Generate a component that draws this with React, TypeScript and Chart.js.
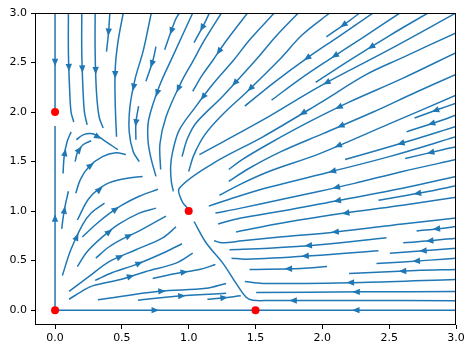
import React, { useEffect, useRef } from "react";
import { Chart, registerables } from "chart.js";

Chart.register(...registerables);

type Pt = [number, number];

// Axis limits and ticks
const xRange: [number, number] = [-0.15, 3];
const yRange: [number, number] = [-0.15, 3];
const xTicks = [0, 0.5, 1, 1.5, 2, 2.5, 3];
const yTicks = [0, 0.5, 1, 1.5, 2, 2.5, 3];

// Fixed points (red dots)
const fixedX = [0, 0, 1, 1.5];
const fixedY = [0, 2, 1, 0];

// Streamlines (ordered in the direction of flow)
const axisLines: Pt[][] = [
  [[0, 3], [0, 2]],
  [[0, 0], [0, 1.86]],
  [[0, 0], [1.5, 0]],
  [[3, 0], [1.5, 0]],
];

const upperLeftLines: Pt[][] = [
  [[0.1, 3], [0.1, 2.6], [0.11, 2.2], [0.12, 2.0], [0.14, 1.9]],
  [[0.2, 3], [0.2, 2.6], [0.21, 2.2], [0.22, 2.0], [0.24, 1.87]],
  [[0.3, 3], [0.3, 2.6], [0.31, 2.2], [0.33, 1.95], [0.36, 1.84]],
  [[0.41, 3], [0.4, 2.8], [0.385, 2.61]],
  [[0.51, 3], [0.47, 2.7], [0.45, 2.43], [0.45, 2.1], [0.46, 1.75]],
  [[0.72, 3], [0.66, 2.62], [0.6, 2.34], [0.56, 2.05], [0.555, 1.8], [0.585, 1.6], [0.63, 1.5]],
  [[0.755, 2.66], [0.73, 2.51], [0.68, 2.31]],
  [[0.625, 2.06], [0.605, 1.89], [0.605, 1.72]],
  [[0.93, 3], [0.9, 2.93], [0.82, 2.63]],
  [[1.155, 3], [1.12, 2.9], [1.04, 2.7]],
  [[1.03, 3], [0.88, 2.56], [0.78, 2.26], [0.7, 1.92], [0.695, 1.72], [0.715, 1.55], [0.755, 1.35]],
  [[1.245, 3], [1.12, 2.73], [1.03, 2.51], [0.94, 2.29], [0.83, 1.95], [0.785, 1.68], [0.79, 1.42]],
  [[1.44, 3], [1.26, 2.68], [1.18, 2.52], [1.1, 2.37], [1.03, 2.21]],
  [[1.64, 3], [1.45, 2.72], [1.34, 2.53], [1.18, 2.28], [1.05, 2.05], [0.93, 1.82], [0.88, 1.6], [0.865, 1.45], [0.87, 1.3], [0.885, 1.2]],
  [[1.82, 3], [1.65, 2.76], [1.505, 2.53], [1.255, 2.16], [1.055, 1.89], [0.99, 1.73], [0.95, 1.55]],
  [[2.055, 3], [1.85, 2.78], [1.68, 2.53], [1.44, 2.21], [1.25, 1.97], [1.12, 1.77], [1.04, 1.57], [1.0, 1.4]],
];

const upperRightLines: Pt[][] = [
  [[2.28, 3], [2.17, 2.89], [2.03, 2.76]],
  [[2.38, 3], [2.12, 2.76], [1.88, 2.54], [1.64, 2.3], [1.42, 2.06]],
  [[2.58, 3], [2.3, 2.75], [2.05, 2.53], [1.83, 2.33], [1.62, 2.12]],
  [[2.79, 3], [2.5, 2.77], [2.2, 2.52], [1.95, 2.3]],
  [[3, 3], [2.5, 2.63], [1.98, 2.26], [1.555, 1.92], [1.08, 1.57]],
  [[3, 2.8], [2.6, 2.55], [2.33, 2.38], [1.98, 2.09], [1.555, 1.75], [1.18, 1.48], [0.93, 1.23], [0.95, 1.1], [0.99, 1.03]],
  [[3, 2.6], [2.6, 2.34], [2.2, 2.1], [1.9, 1.9], [1.6, 1.68], [1.4, 1.52], [1.3, 1.42]],
  [[3, 2.38], [2.7, 2.2], [2.38, 2.0], [2.0, 1.78], [1.69, 1.6], [1.45, 1.43], [1.3, 1.3]],
  [[3, 2.17], [2.5, 1.88], [1.98, 1.58], [1.6, 1.4], [1.4, 1.28], [1.23, 1.16]],
  [[3, 2.09], [2.875, 2.03], [2.69, 1.94]],
  [[3, 1.97], [2.9, 1.92], [2.63, 1.8]],
  [[3, 1.855], [2.63, 1.7], [2.17, 1.52]],
  [[3, 1.75], [2.5, 1.55], [2.07, 1.4], [1.6, 1.24], [1.35, 1.14], [1.15, 1.05]],
  [[3, 1.65], [2.9, 1.62], [2.62, 1.53]],
  [[3, 1.52], [2.6, 1.4], [2.24, 1.28], [1.98, 1.2], [1.7, 1.12], [1.39, 1.03], [1.2, 0.98]],
  [[3, 1.35], [2.6, 1.23], [2.13, 1.11], [1.7, 1.0], [1.39, 0.93], [1.22, 0.87]],
  [[3, 1.255], [2.8, 1.2], [2.42, 1.11]],
  [[3, 1.14], [2.6, 1.06], [2.22, 0.99], [1.7, 0.88], [1.355, 0.79]],
];

const lowerRightLines: Pt[][] = [
  [[3, 0.93], [2.6, 0.87], [2.1, 0.79], [1.7, 0.74], [1.4, 0.7], [1.25, 0.68], [1.19, 0.7]],
  [[3, 0.845], [2.89, 0.825], [2.705, 0.8]],
  [[3, 0.727], [2.805, 0.7], [2.605, 0.68]],
  [[2.48, 0.73], [1.98, 0.66], [1.6, 0.625], [1.305, 0.61]],
  [[3, 0.625], [2.805, 0.605], [2.505, 0.575]],
  [[2.42, 0.6], [1.92, 0.55], [1.43, 0.515], [1.32, 0.525]],
  [[3, 0.525], [2.805, 0.505], [2.405, 0.47]],
  [[2.035, 0.44], [1.84, 0.42], [1.455, 0.41]],
  [[3, 0.41], [2.7, 0.4], [2.2, 0.37]],
  [[3, 0.31], [2.3, 0.28], [1.555, 0.27], [1.42, 0.29]],
  [[3, 0.188], [2.3, 0.185], [1.505, 0.178]],
  [[3, 0.095], [2.2, 0.097], [1.6, 0.097], [1.48, 0.1], [1.43, 0.13], [1.355, 0.27], [1.255, 0.475], [1.13, 0.68], [1.04, 0.895]],
];

const lowerLeftLines: Pt[][] = [
  [[0.05, 0.82], [0.06, 0.93], [0.075, 1.05], [0.1, 1.2]],
  [[0.06, 1.38], [0.068, 1.55], [0.09, 1.7], [0.12, 1.8]],
  [[0.16, 1.72], [0.21, 1.77], [0.28, 1.78], [0.36, 1.72], [0.47, 1.62]],
  [[0.15, 1.5], [0.17, 1.6], [0.21, 1.67], [0.27, 1.71]],
  [[0.155, 1.18], [0.19, 1.32], [0.255, 1.45], [0.355, 1.55], [0.455, 1.59], [0.53, 1.57]],
  [[0.167, 0.91], [0.255, 1.13], [0.38, 1.27], [0.53, 1.33], [0.655, 1.35]],
  [[0.055, 0.35], [0.118, 0.61], [0.205, 0.86], [0.27, 0.98], [0.37, 1.08]],
  [[0.167, 0.44], [0.24, 0.59], [0.355, 0.74], [0.48, 0.87], [0.63, 0.98], [0.755, 1.03]],
  [[0.205, 0.74], [0.3, 0.86], [0.4, 0.97], [0.5, 1.06], [0.63, 1.15], [0.77, 1.22]],
  [[0.305, 0.525], [0.405, 0.64], [0.505, 0.72], [0.63, 0.8], [0.83, 0.95]],
  [[0.105, 0.19], [0.255, 0.34], [0.405, 0.49], [0.605, 0.61], [0.805, 0.73], [0.905, 0.84]],
  [[0.105, 0.11], [0.2, 0.19], [0.28, 0.245], [0.49, 0.31], [0.68, 0.39], [0.905, 0.475], [1.03, 0.575]],
  [[0.3, 0.3], [0.43, 0.38], [0.605, 0.46], [0.83, 0.59], [0.95, 0.67]],
  [[0.73, 0.32], [0.905, 0.37], [1.08, 0.41], [1.2, 0.46]],
  [[0.32, 0.104], [0.78, 0.19], [1.13, 0.22], [1.28, 0.27]],
  [[0.62, 0.1], [0.905, 0.14], [1.28, 0.17]],
  [[1.14, 0.11], [1.23, 0.12], [1.39, 0.145]],
];

const streamlines: Pt[][] = [
  ...axisLines,
  ...upperLeftLines,
  ...upperRightLines,
  ...lowerRightLines,
  ...lowerLeftLines,
];

const LINE_COLOR = "#1f77b4";

const arrowPlugin = {
  id: "streamArrows",
  afterDatasetsDraw(chart: any) {
    const ctx = chart.ctx as CanvasRenderingContext2D;
    const xs = chart.scales.x;
    const ys = chart.scales.y;
    const area = chart.chartArea;
    ctx.save();
    ctx.beginPath();
    ctx.rect(area.left, area.top, area.right - area.left, area.bottom - area.top);
    ctx.clip();
    ctx.fillStyle = LINE_COLOR;
    for (const line of streamlines) {
      // arc length in data units, arrow at the middle (as matplotlib does)
      const seg: number[] = [];
      let total = 0;
      for (let i = 1; i < line.length; i++) {
        const d = Math.hypot(line[i][0] - line[i - 1][0], line[i][1] - line[i - 1][1]);
        seg.push(d);
        total += d;
      }
      let half = total / 2;
      let k = 0;
      while (k < seg.length - 1 && half > seg[k]) {
        half -= seg[k];
        k++;
      }
      const t = seg[k] > 0 ? half / seg[k] : 0;
      const ax = line[k][0] + (line[k + 1][0] - line[k][0]) * t;
      const ay = line[k][1] + (line[k + 1][1] - line[k][1]) * t;
      const px = xs.getPixelForValue(ax);
      const py = ys.getPixelForValue(ay);
      const p0x = xs.getPixelForValue(line[k][0]);
      const p0y = ys.getPixelForValue(line[k][1]);
      const p1x = xs.getPixelForValue(line[k + 1][0]);
      const p1y = ys.getPixelForValue(line[k + 1][1]);
      let dx = p1x - p0x;
      let dy = p1y - p0y;
      const n = Math.hypot(dx, dy) || 1;
      dx /= n;
      dy /= n;
      const L = 7.5;
      const W = 3.2;
      const tipX = px + dx * L * 0.5;
      const tipY = py + dy * L * 0.5;
      const bx = px - dx * L * 0.5;
      const by = py - dy * L * 0.5;
      ctx.beginPath();
      ctx.moveTo(tipX, tipY);
      ctx.lineTo(bx - dy * W, by + dx * W);
      ctx.lineTo(bx + dy * W, by - dx * W);
      ctx.closePath();
      ctx.fill();
    }
    ctx.restore();
    // fixed points on top
    ctx.save();
    ctx.fillStyle = "#ff0000";
    for (let i = 0; i < fixedX.length; i++) {
      ctx.beginPath();
      ctx.arc(xs.getPixelForValue(fixedX[i]), ys.getPixelForValue(fixedY[i]), 4, 0, Math.PI * 2);
      ctx.fill();
    }
    ctx.restore();
  },
  afterDraw(chart: any) {
    const ctx = chart.ctx as CanvasRenderingContext2D;
    const a = chart.chartArea;
    ctx.save();
    ctx.strokeStyle = "#000";
    ctx.lineWidth = 1;
    ctx.strokeRect(Math.round(a.left) + 0.5, Math.round(a.top) + 0.5, Math.round(a.right - a.left) - 1, Math.round(a.bottom - a.top) - 1);
    ctx.restore();
  },
};

export default function App() {
  const ref = useRef<HTMLCanvasElement | null>(null);
  useEffect(() => {
    document.body.style.margin = "0";
    const canvas = ref.current;
    if (!canvas) return;
    const datasets: any[] = streamlines.map((line) => ({
      data: line.map(([x, y]) => ({ x, y })),
      showLine: true,
      borderColor: LINE_COLOR,
      borderWidth: 1.5,
      pointRadius: 0,
      pointHoverRadius: 0,
      tension: 0.35,
      fill: false,
    }));
    const tickFont = { family: "DejaVu Sans", size: 11 };
    const chart = new Chart(canvas, {
      type: "scatter",
      data: { datasets },
      options: {
        animation: false,
        responsive: false,
        devicePixelRatio: 1,
        events: [],
        layout: { padding: { top: 13, right: 18, left: 0, bottom: 0 } },
        plugins: { legend: { display: false }, tooltip: { enabled: false } },
        scales: {
          x: {
            type: "linear",
            position: "bottom",
            min: xRange[0],
            max: xRange[1],
            afterBuildTicks: (s: any) => {
              s.ticks = xTicks.map((v) => ({ value: v }));
            },
            afterFit: (s: any) => {
              s.height = 29;
            },
            ticks: {
              autoSkip: false,
              maxRotation: 0,
              padding: 3,
              color: "#000",
              font: tickFont,
              callback: (v: any) => Number(v).toFixed(1),
            },
            grid: { drawOnChartArea: false, drawTicks: true, tickLength: 4, color: "#000", lineWidth: 1 },
            border: { display: false },
          },
          y: {
            type: "linear",
            position: "left",
            min: yRange[0],
            max: yRange[1],
            afterBuildTicks: (s: any) => {
              s.ticks = yTicks.map((v) => ({ value: v }));
            },
            afterFit: (s: any) => {
              s.width = 35;
            },
            ticks: {
              autoSkip: false,
              padding: 4,
              color: "#000",
              font: tickFont,
              callback: (v: any) => Number(v).toFixed(1),
            },
            grid: { drawOnChartArea: false, drawTicks: true, tickLength: 4, color: "#000", lineWidth: 1 },
            border: { display: false },
          },
        },
      },
      plugins: [arrowPlugin],
    } as any);
    return () => chart.destroy();
  }, []);
  return (
    <div style={{ position: "fixed", left: 0, top: 0, width: 474, height: 354, background: "#fff" }}>
      <canvas ref={ref} width={474} height={354} style={{ width: 474, height: 354, display: "block" }} />
    </div>
  );
}
